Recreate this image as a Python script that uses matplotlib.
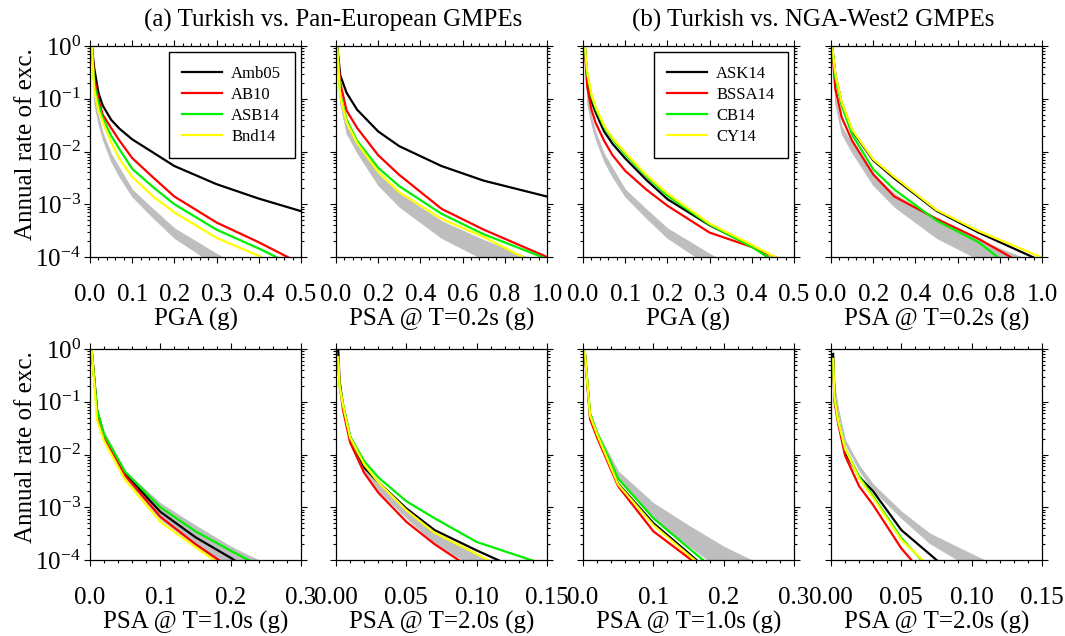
import numpy as np
import matplotlib
matplotlib.use('Agg')
import matplotlib.pyplot as plt
from matplotlib.ticker import AutoMinorLocator, LogLocator, MultipleLocator, FormatStrFormatter, NullFormatter

plt.rcParams['font.family'] = ['Liberation Serif', 'DejaVu Serif']
plt.rcParams['mathtext.fontset'] = 'custom'
plt.rcParams['mathtext.rm'] = 'Liberation Serif'
plt.rcParams['mathtext.it'] = 'Liberation Serif:italic'
plt.rcParams['axes.unicode_minus'] = False

# ground-motion levels (g) for each intensity measure
x_pga = [0.004, 0.01, 0.02, 0.03, 0.05, 0.07, 0.1, 0.15, 0.2, 0.3, 0.4, 0.5]
x_t02 = [0.005, 0.02, 0.05, 0.1, 0.2, 0.3, 0.5, 0.7, 1.0]
x_t10 = [0.002, 0.01, 0.02, 0.05, 0.1, 0.15, 0.2, 0.3]
x_t20 = [0.0015, 0.0025, 0.005, 0.01, 0.02, 0.03, 0.05, 0.07, 0.1, 0.15]

# Turkish GMPEs (grey band: lower / upper envelope)
tr_pga_lo = [1.0, 0.08, 0.033, 0.017, 0.0065, 0.0033, 0.0014, 5.5e-4, 2.3e-4, 6.8e-5, 2e-5, 5e-6]
tr_pga_hi = [1.05, 0.11, 0.045, 0.023, 0.009, 0.0048, 0.0019, 8e-4, 3.5e-4, 1.15e-4, 4e-5, 1.5e-5]
tr_t02_lo = [1.0, 0.08, 0.022, 0.0095, 0.0023, 9e-4, 2.3e-4, 9e-5, 2.3e-5]
tr_t02_hi = [1.05, 0.1, 0.03, 0.014, 0.0037, 0.0016, 4.8e-4, 2.1e-4, 7e-5]
tr_t10_lo = [1.0, 0.05, 0.022, 0.0035, 6e-4, 1.9e-4, 6e-5, 1e-5]
tr_t10_hi = [1.1, 0.065, 0.027, 0.0048, 0.0012, 4.5e-4, 1.8e-4, 4e-5]
tr_t20_lo = [0.8, 0.18, 0.065, 0.016, 0.005, 0.0021, 6.3e-4, 2.1e-4, 7e-5, 1e-5]
tr_t20_hi = [0.9, 0.2, 0.075, 0.019, 0.0062, 0.0027, 8.3e-4, 3.2e-4, 1.3e-4, 3e-5]

# (a) Pan-European GMPEs
amb05_pga = [1.05, 0.38, 0.13, 0.075, 0.04, 0.027, 0.017, 0.0095, 0.0053, 0.0024, 0.00128, 0.00074]
ab10_pga = [1.05, 0.25, 0.1, 0.05, 0.028, 0.016, 0.0075, 0.0032, 0.0014, 0.00045, 0.00019, 7.4e-5]
asb14_pga = [1.05, 0.19, 0.08, 0.043, 0.02, 0.011, 0.0047, 0.0021, 0.001, 0.00033, 0.000145, 5.9e-5]
bnd14_pga = [1.05, 0.15, 0.06, 0.037, 0.015, 0.0072, 0.0033, 0.0014, 0.0007, 0.00023, 0.000105, 4e-5]

amb05_t02 = [1.05, 0.28, 0.13, 0.062, 0.024, 0.0126, 0.0053, 0.0028, 0.0014]
ab10_t02 = [1.05, 0.2, 0.06, 0.028, 0.0085, 0.0036, 8.2e-4, 3.3e-4, 1.0e-4]
asb14_t02 = [1.05, 0.12, 0.04, 0.016, 0.0049, 0.0022, 6.6e-4, 2.7e-4, 9.2e-5]
bnd14_t02 = [1.05, 0.11, 0.036, 0.0145, 0.0041, 0.0017, 5.3e-4, 2.4e-4, 5.8e-5]

amb05_t10 = [1.1, 0.07, 0.022, 0.0043, 8.2e-4, 2.7e-4, 1.1e-4, 1.5e-5]
ab10_t10 = [1.1, 0.065, 0.021, 0.004, 6.6e-4, 2e-4, 7e-5, 1e-5]
asb14_t10 = [1.1, 0.07, 0.024, 0.0047, 1e-3, 3.5e-4, 1.5e-4, 3e-5]
bnd14_t10 = [1.1, 0.045, 0.018, 0.0033, 5.3e-4, 1.75e-4, 6e-5, 1e-5]

amb05_t20 = [1.1, 0.25, 0.085, 0.022, 0.0057, 0.003, 9.5e-4, 3.7e-4, 1.52e-4, 3.8e-5]
ab10_t20 = [0.7, 0.22, 0.07, 0.017, 0.0045, 0.0019, 5.3e-4, 2e-4, 5.9e-5, 1e-5]
asb14_t20 = [0.7, 0.2, 0.09, 0.022, 0.0075, 0.0037, 0.0013, 6.2e-4, 2.2e-4, 7.9e-5]
bnd14_t20 = [0.7, 0.2, 0.085, 0.021, 0.0065, 0.003, 8.8e-4, 3.3e-4, 1.3e-4, 2.5e-5]

# (b) NGA-West2 GMPEs
ask14_pga = [1.05, 0.25, 0.09, 0.055, 0.024, 0.014, 0.0074, 0.0029, 0.00125, 0.0004, 0.00016, 4.6e-5]
bssa14_pga = [1.05, 0.17, 0.062, 0.035, 0.016, 0.0085, 0.0043, 0.0019, 0.00094, 0.00029, 0.000155, 7e-5]
cb14_pga = [1.05, 0.3, 0.11, 0.065, 0.029, 0.017, 0.0088, 0.0034, 0.00145, 0.00041, 0.000155, 5e-5]
cy14_pga = [1.05, 0.32, 0.12, 0.07, 0.031, 0.018, 0.0095, 0.0036, 0.0016, 0.00043, 0.00017, 6.5e-5]

ask14_t02 = [1.05, 0.3, 0.085, 0.025, 0.0068, 0.0031, 7.5e-4, 2.9e-4, 8.3e-5]
bssa14_t02 = [1.05, 0.16, 0.045, 0.016, 0.0037, 0.0014, 5.3e-4, 2.2e-4, 4.6e-5]
cb14_t02 = [1.05, 0.26, 0.075, 0.021, 0.0046, 0.0019, 4.9e-4, 1.9e-4, 2.2e-5]
cy14_t02 = [1.05, 0.31, 0.088, 0.026, 0.0071, 0.0033, 7.8e-4, 3.1e-4, 9.8e-5]

ask14_t10 = [1.1, 0.055, 0.024, 0.0028, 5e-4, 1.35e-4, 3.5e-5, 5e-6]
bssa14_t10 = [1.1, 0.047, 0.021, 0.0025, 3.5e-4, 1.1e-4, 3e-5, 5e-6]
cb14_t10 = [1.1, 0.06, 0.026, 0.0035, 6.2e-4, 1.7e-4, 4.7e-5, 5e-6]
cy14_t10 = [1.1, 0.055, 0.024, 0.0027, 4.6e-4, 1.25e-4, 3.5e-5, 5e-6]

ask14_t20 = [0.8, 0.12, 0.045, 0.011, 0.0038, 0.002, 3.7e-4, 1.3e-4, 2.7e-5, 2e-6]
bssa14_t20 = [0.55, 0.1, 0.04, 0.0095, 0.0025, 0.0011, 1.66e-4, 4e-5, 3e-6, 1e-6]
cb14_t20 = [0.57, 0.12, 0.045, 0.013, 0.0038, 0.0016, 2.6e-4, 6.8e-5, 5e-6, 1e-6]
cy14_t20 = [0.65, 0.12, 0.045, 0.013, 0.0035, 0.0015, 2.4e-4, 7.5e-5, 5e-6, 1e-6]

labels_a = ['Amb05', 'AB10', 'ASB14', 'Bnd14']
labels_b = ['ASK14', 'BSSA14', 'CB14', 'CY14']
colors = ['#000000', '#ff0000', '#00f000', '#ffff00']

xlabels = ['PGA (g)', 'PSA @ T=0.2s (g)', 'PSA @ T=1.0s (g)', 'PSA @ T=2.0s (g)']

# panel table: (row, col, x, curves, labels, grey lo, grey hi, xmax, step, fmt, xlabel)
panels = [
    (0, 0, x_pga, [amb05_pga, ab10_pga, asb14_pga, bnd14_pga], labels_a, tr_pga_lo, tr_pga_hi, 0.5, 0.1, '%.1f', xlabels[0]),
    (0, 1, x_t02, [amb05_t02, ab10_t02, asb14_t02, bnd14_t02], labels_a, tr_t02_lo, tr_t02_hi, 1.0, 0.2, '%.1f', xlabels[1]),
    (0, 2, x_pga, [ask14_pga, bssa14_pga, cb14_pga, cy14_pga], labels_b, tr_pga_lo, tr_pga_hi, 0.5, 0.1, '%.1f', xlabels[0]),
    (0, 3, x_t02, [ask14_t02, bssa14_t02, cb14_t02, cy14_t02], labels_b, tr_t02_lo, tr_t02_hi, 1.0, 0.2, '%.1f', xlabels[1]),
    (1, 0, x_t10, [amb05_t10, ab10_t10, asb14_t10, bnd14_t10], labels_a, tr_t10_lo, tr_t10_hi, 0.3, 0.1, '%.1f', xlabels[2]),
    (1, 1, x_t20, [amb05_t20, ab10_t20, asb14_t20, bnd14_t20], labels_a, tr_t20_lo, tr_t20_hi, 0.15, 0.05, '%.2f', xlabels[3]),
    (1, 2, x_t10, [ask14_t10, bssa14_t10, cb14_t10, cy14_t10], labels_b, tr_t10_lo, tr_t10_hi, 0.3, 0.1, '%.1f', xlabels[2]),
    (1, 3, x_t20, [ask14_t20, bssa14_t20, cb14_t20, cy14_t20], labels_b, tr_t20_lo, tr_t20_hi, 0.15, 0.05, '%.2f', xlabels[3]),
]

W, H = 1065, 636
fig = plt.figure(figsize=(W / 100, H / 100), dpi=100)

lefts = [90, 336, 583, 831]
tops = [46, 349]
size = 211

for row, col, x, curves, labels, glo, ghi, xmax, step, fmt, xlabel in panels:
    ax = fig.add_axes([lefts[col] / W, 1 - (tops[row] + size) / H, size / W, size / H])
    ax.fill_between(x, glo, ghi, color='#bebebe', lw=0.6, zorder=1)
    for yv, lab, c in zip(curves, labels, colors):
        ax.plot(x, yv, color=c, lw=1.6, label=lab, zorder=2)

    ax.set_yscale('log')
    ax.set_ylim(1e-4, 1)
    ax.set_xlim(0, xmax)
    ax.xaxis.set_major_locator(MultipleLocator(step))
    ax.xaxis.set_minor_locator(AutoMinorLocator(5))
    ax.xaxis.set_major_formatter(FormatStrFormatter(fmt))
    ax.yaxis.set_major_locator(LogLocator(base=10, numticks=10))
    ax.yaxis.set_minor_locator(LogLocator(base=10, subs=np.arange(2, 10), numticks=10))
    ax.yaxis.set_minor_formatter(NullFormatter())
    ax.tick_params(which='both', direction='out', top=True, right=True, width=0.8, colors='black')
    ax.tick_params(which='major', length=4.5, labelsize=18)
    ax.tick_params(axis='x', which='major', pad=15)
    ax.tick_params(axis='y', which='major', pad=2)
    ax.tick_params(which='minor', length=2.5)
    for s in ax.spines.values():
        s.set_linewidth(0.9)

    ax.set_xlabel(xlabel, fontsize=18, va='top')
    ax.xaxis.set_label_coords(0.5, -0.24)
    if col == 0:
        ax.set_ylabel('Annual rate of exc.', fontsize=18)
        ax.yaxis.set_label_coords(-0.25, 0.535)
    else:
        ax.set_yticklabels([])

    if row == 0 and col in (0, 2):
        leg = ax.legend(loc='upper right', bbox_to_anchor=(0.97, 0.97), borderaxespad=0,
                        fontsize=12, handlelength=2.4, labelspacing=0.3, borderpad=0.8,
                        handletextpad=0.55, fancybox=False, framealpha=1)
        leg.get_frame().set_edgecolor('black')
        leg.get_frame().set_linewidth(1.0)

fig.text(333 / W, 1 - 27 / H, '(a) Turkish vs. Pan-European GMPEs', ha='center', va='baseline', fontsize=18)
fig.text(813 / W, 1 - 27 / H, '(b) Turkish vs. NGA-West2 GMPEs', ha='center', va='baseline', fontsize=18)

fig.savefig('out.png', dpi=100)
